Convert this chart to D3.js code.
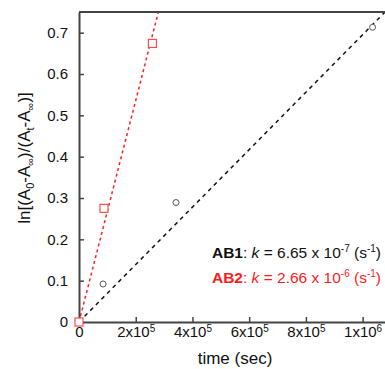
<!DOCTYPE html>
<html>
<head>
<meta charset="utf-8">
<script src="https://cdn.jsdelivr.net/npm/d3@7"></script>
<style>
  body { margin: 0; background: #fff; }
  text { font-family: "Liberation Sans", Arial, sans-serif; }
</style>
</head>
<body>
<div id="chart"></div>
<script>
// data
const ab1Time = [0, 0.85e5, 3.42e5, 1.035e6];
const ab1Value = [0, 0.092, 0.289, 0.713];
const ab2Time = [0, 0.88e5, 2.59e5];
const ab2Value = [0, 0.275, 0.674];
const fitSlopes = [6.95e-7, 2.68e-6];   // visual slopes of the dashed fits
const xTicks = [0, 2e5, 4e5, 6e5, 8e5, 1e6];
const xTickLabels = [["0", ""], ["2x10", "5"], ["4x10", "5"], ["6x10", "5"], ["8x10", "5"], ["1x10", "6"]];
const yTicks = [0, 0.1, 0.2, 0.3, 0.4, 0.5, 0.6, 0.7];
const yTickLabels = ["0", "0.1", "0.2", "0.3", "0.4", "0.5", "0.6", "0.7"];

const width = 385, height = 369;
const margin = { top: 12, left: 79, bottom: 47 };
const plotRight = 391;

const svg = d3.select('#chart').append('svg')
  .attr('width', width)
  .attr('height', height);

const x = d3.scaleLinear()
  .domain([0, 1.1e6])
  .range([margin.left, plotRight]);

const y = d3.scaleLinear()
  .domain([0, 0.75])
  .range([height - margin.bottom, margin.top]);

const axisColor = '#444';

// fit lines, clipped to plot
svg.append('clipPath').attr('id', 'plotclip')
  .append('rect')
  .attr('x', x(0)).attr('y', y(0.75))
  .attr('width', plotRight - x(0)).attr('height', y(0) - y(0.75));

const fitStyles = [
  { color: '#111', dash: '4,4' },
  { color: '#ff2020', dash: '3,3' }
];
fitSlopes.forEach((k, i) => {
  const tEnd = 0.75 / k;
  svg.append('line')
    .attr('clip-path', 'url(#plotclip)')
    .attr('x1', x(0)).attr('y1', y(0))
    .attr('x2', x(tEnd)).attr('y2', y(k * tEnd))
    .attr('stroke', fitStyles[i].color)
    .attr('stroke-width', 1.5)
    .attr('stroke-dasharray', fitStyles[i].dash);
});

// frame (top + right)
svg.append('path')
  .attr('d', `M${x(0)},${y(0.75)}H${plotRight}V${y(0)}`)
  .attr('fill', 'none')
  .attr('stroke', axisColor)
  .attr('stroke-width', 2);

// axes
const xAxis = svg.append('g')
  .attr('transform', `translate(0,${y(0)})`)
  .call(d3.axisBottom(x).tickValues(xTicks).tickSize(-5).tickSizeOuter(0).tickPadding(4).tickFormat(''));

xAxis.selectAll('.tick text').each(function(d, i) {
  const t = d3.select(this);
  t.append('tspan').text(xTickLabels[i][0]);
  if (xTickLabels[i][1]) {
    t.append('tspan').attr('dy', '-0.5em').attr('font-size', 10).text(xTickLabels[i][1]);
  }
});

const yAxis = svg.append('g')
  .attr('transform', `translate(${x(0)},0)`)
  .call(d3.axisLeft(y).tickValues(yTicks).tickSize(-5).tickSizeOuter(0).tickPadding(11)
    .tickFormat((d, i) => yTickLabels[i]));

[xAxis, yAxis].forEach(g => {
  g.select('.domain').attr('stroke', axisColor).attr('stroke-width', 2);
  g.selectAll('.tick line').attr('stroke', axisColor).attr('stroke-width', 1.5);
  g.selectAll('.tick text').attr('font-size', 15).attr('fill', '#111')
    .attr('font-family', '"Liberation Sans", Arial, sans-serif');
});

// markers
const ab1 = ab1Time.map((t, i) => ({ t, v: ab1Value[i] }));
const ab2 = ab2Time.map((t, i) => ({ t, v: ab2Value[i] }));

svg.selectAll('.c1').data(ab1).join('circle')
  .attr('cx', d => x(d.t)).attr('cy', d => y(d.v))
  .attr('r', 3)
  .attr('fill', '#fff')
  .attr('stroke', '#555')
  .attr('stroke-width', 1);

svg.selectAll('.s2').data(ab2).join('rect')
  .attr('x', d => x(d.t) - 4).attr('y', d => y(d.v) - 4)
  .attr('width', 8).attr('height', 8)
  .attr('fill', '#fff')
  .attr('stroke', '#ff4d4d')
  .attr('stroke-width', 1.2);

// axis titles
svg.append('text')
  .attr('x', (x(0) + plotRight) / 2)
  .attr('y', 364)
  .attr('text-anchor', 'middle')
  .attr('font-size', 17)
  .attr('fill', '#111')
  .text('time (sec)');

const yTitle = svg.append('text')
  .attr('transform', 'translate(30,158) rotate(-90)')
  .attr('text-anchor', 'middle')
  .attr('font-size', 17)
  .attr('fill', '#111');
yTitle.append('tspan').text('ln[(A');
yTitle.append('tspan').attr('font-size', 11).attr('dy', 4).text('0');
yTitle.append('tspan').attr('dy', -4).text('-A');
yTitle.append('tspan').attr('font-size', 11).attr('dy', 4).text('\u221e');
yTitle.append('tspan').attr('dy', -4).text(')/(A');
yTitle.append('tspan').attr('font-size', 11).attr('dy', 4).text('t');
yTitle.append('tspan').attr('dy', -4).text('-A');
yTitle.append('tspan').attr('font-size', 11).attr('dy', 4).text('\u221e');
yTitle.append('tspan').attr('dy', -4).text(')]');

// rate constant labels
const labels = [
  { name: 'AB1', k: '6.65', exp: '-7', color: '#111', y: 258 },
  { name: 'AB2', k: '2.66', exp: '-6', color: '#ff1a1a', y: 283 }
];
labels.forEach(l => {
  const t = svg.append('text')
    .attr('x', 381).attr('y', l.y)
    .attr('text-anchor', 'end')
    .attr('font-size', 15.5)
    .attr('fill', l.color);
  t.append('tspan').attr('font-weight', 'bold').text(l.name);
  t.append('tspan').text(': ');
  t.append('tspan').attr('font-style', 'italic').text('k');
  t.append('tspan').text(` = ${l.k} x 10`);
  t.append('tspan').attr('font-size', 10).attr('dy', -6).text(l.exp);
  t.append('tspan').attr('dy', 6).text(' (s');
  t.append('tspan').attr('font-size', 10).attr('dy', -6).text('-1');
  t.append('tspan').attr('dy', 6).text(')');
});
</script>
</body>
</html>
